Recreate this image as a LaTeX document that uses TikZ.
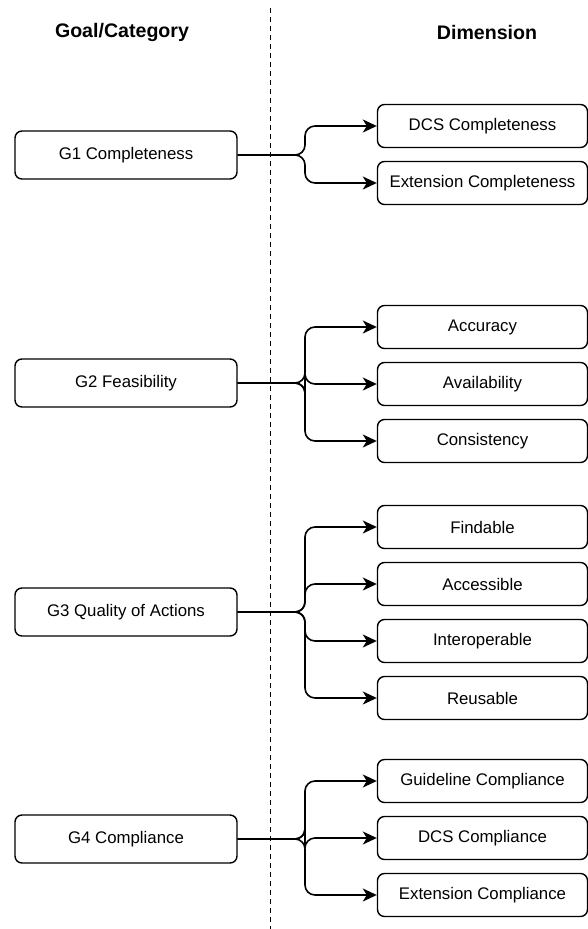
\documentclass[tikz,border=0pt]{standalone}
\usepackage{fontspec}
\setmainfont{Liberation Sans}
\usetikzlibrary{arrows.meta}
\begin{document}
\begin{tikzpicture}[x=1pt,y=-1pt,
  goalbox/.style={draw, line width=1.4pt, rounded corners=7pt, minimum width=222pt, minimum height=48pt, inner sep=0pt, font=\fontsize{16.8}{20}\selectfont},
  dimbox/.style={draw, line width=1.4pt, rounded corners=7pt, minimum width=210pt, minimum height=43pt, inner sep=0pt, font=\fontsize{16.8}{20}\selectfont},
  header/.style={font=\bfseries\fontsize{19.6}{23}\selectfont},
  link/.style={line width=1.6pt, rounded corners=10pt, -{Stealth[length=14pt,width=13pt,inset=4pt]}}
]
\useasboundingbox (0,0) rectangle (587,929);

% column headers and separator
\node[header] (hgoal) at (122,32) {Goal/Category};
\node[header] (hdim) at (487,32) {Dimension};
\coordinate (septop) at (270,8);
\coordinate (sepbot) at (270,929);
\draw[line width=1pt, dash pattern=on 5pt off 4pt] (septop) -- (sepbot);

% goals
\node[goalbox] (g1) at (126,155) {G1 Completeness};
\node[goalbox] (g2) at (126,383) {G2 Feasibility};
\node[goalbox] (g3) at (126,612) {G3 Quality of Actions};
\node[goalbox] (g4) at (126,839) {G4 Compliance};

% dimensions
\node[dimbox] (d11) at (482.5,126) {DCS Completeness};
\node[dimbox] (d12) at (482.5,183) {Extension Completeness};
\node[dimbox] (d21) at (482.5,327) {Accuracy};
\node[dimbox] (d22) at (482.5,384) {Availability};
\node[dimbox] (d23) at (482.5,441) {Consistency};
\node[dimbox] (d31) at (482.5,527) {Findable};
\node[dimbox] (d32) at (482.5,584) {Accessible};
\node[dimbox] (d33) at (482.5,641) {Interoperable};
\node[dimbox] (d34) at (482.5,698) {Reusable};
\node[dimbox] (d41) at (482.5,781) {Guideline Compliance};
\node[dimbox] (d42) at (482.5,838) {DCS Compliance};
\node[dimbox] (d43) at (482.5,895) {Extension Compliance};

% connectors: trunk to x=305, then branch to each dimension
\foreach \g/\ds in {g1/{d11,d12}, g2/{d21,d22,d23}, g3/{d31,d32,d33,d34}, g4/{d41,d42,d43}} {
  \foreach \d in \ds {
    \draw[link] (\g.east) -- (305,0 |- \g.east) |- (\d.west);
  }
}
\end{tikzpicture}
\end{document}
